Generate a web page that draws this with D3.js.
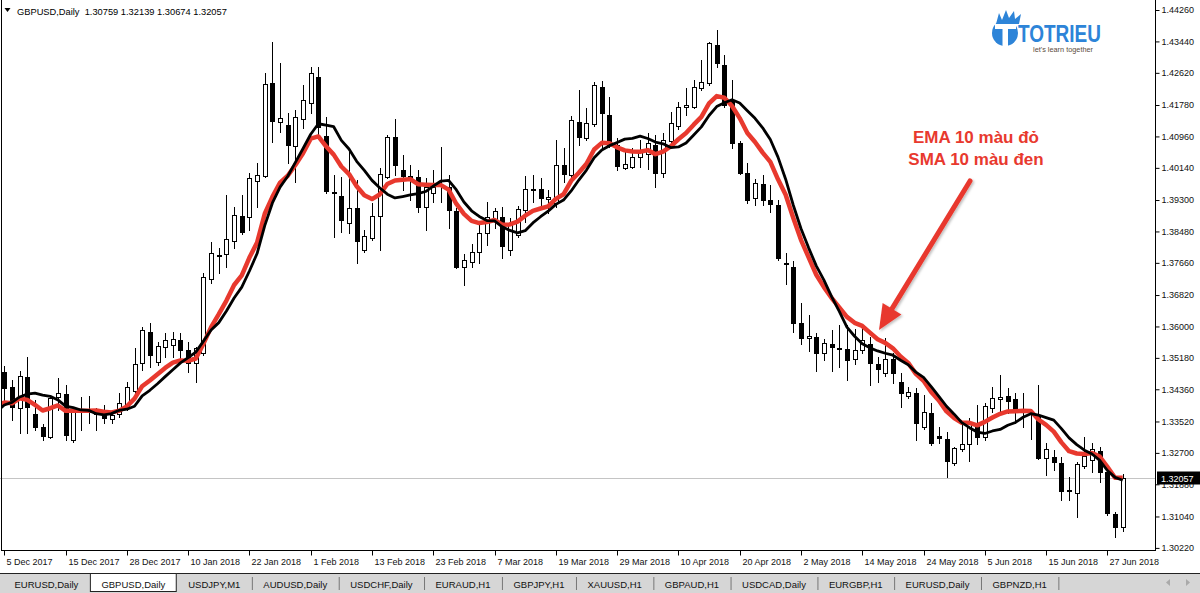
<!DOCTYPE html>
<html><head><meta charset="utf-8">
<script src="https://cdn.jsdelivr.net/npm/d3@7/dist/d3.min.js"></script>
<style>
html,body{margin:0;padding:0;background:#fff;overflow:hidden}
svg{display:block}
text{font-family:"Liberation Sans",Arial,sans-serif}
</style></head><body>
<svg id="chart" width="1200" height="593"></svg>
<script>
// ---------------- DATA ----------------
const symbolTitle = "GBPUSD,Daily";
const lastBarText = ["1.30759","1.32139","1.30674","1.32057"];
const currentPrice = 1.32057;
const maPeriod = 10;

const dateLabels = ["5 Dec 2017","15 Dec 2017","28 Dec 2017","10 Jan 2018","22 Jan 2018","1 Feb 2018","13 Feb 2018","23 Feb 2018","7 Mar 2018","19 Mar 2018","29 Mar 2018","10 Apr 2018","20 Apr 2018","2 May 2018","14 May 2018","24 May 2018","5 Jun 2018","15 Jun 2018","27 Jun 2018"];
const dateTickIdx = [0,8,16,24,32,40,48,56,64,72,80,88,96,104,112,120,128,136,144];
const priceTicks = [1.44260,1.43440,1.42620,1.41780,1.40960,1.40140,1.39300,1.38480,1.37660,1.36820,1.36000,1.35180,1.34360,1.33520,1.32700,1.31880,1.31040,1.30220];

// closes before 5 Dec 2017 (estimated from where the MA lines start)
const warmupCloses = [1.3262,1.3322,1.3330,1.3318,1.3309,1.3368,1.3443,1.3520,1.3478,1.3424];

const opens = [1.3481,1.3442,1.3387,1.3468,1.3372,1.3338,1.3312,1.3416,1.3424,1.3304,
1.3385,1.3382,1.3372,1.3382,1.3359,1.3372,1.3387,1.3432,1.3505,1.3586,
1.3507,1.3546,1.3552,1.3565,1.3539,1.3505,1.3531,1.3724,1.3787,1.3789,
1.3823,1.3888,1.3885,1.3980,1.3992,1.4236,1.4134,1.4126,1.4071,1.4142,
1.4183,1.4251,1.4097,1.3948,1.3941,1.3870,1.3909,1.3800,1.3831,1.3888,
1.3990,1.4095,1.4008,1.3990,1.3990,1.3912,1.3948,1.3967,1.3964,1.3901,
1.3755,1.3768,1.3794,1.3844,1.3878,1.3885,1.3800,1.3839,1.3904,1.3956,
1.3959,1.3933,1.3922,1.4022,1.3995,1.4134,1.4092,1.4129,1.4225,1.4152,
1.4074,1.4014,1.4016,1.4042,1.4050,1.4074,1.4001,1.4084,1.4123,1.4173,
1.4173,1.4223,1.4236,1.4335,1.4282,1.4191,1.4079,1.4001,1.3935,1.3972,
1.3930,1.3917,1.3766,1.3755,1.3609,1.3570,1.3573,1.3531,1.3554,1.3544,
1.3541,1.3515,1.3539,1.3554,1.3502,1.3479,1.3515,1.3455,1.3419,1.3426,
1.3338,1.3374,1.3314,1.3306,1.3244,1.3280,1.3293,1.3340,1.3312,1.3387,
1.3411,1.3419,1.3411,1.3377,1.3372,1.3369,1.3257,1.3259,1.3244,1.3173,
1.3165,1.3236,1.3252,1.3275,1.3220,1.3111,1.30759];
const highs = [1.3497,1.3460,1.3484,1.3520,1.3408,1.3346,1.3416,1.3466,1.3447,1.3390,
1.3416,1.3419,1.3387,1.3395,1.3374,1.3426,1.3455,1.3544,1.3599,1.3609,
1.3560,1.3583,1.3586,1.3583,1.3560,1.3546,1.3740,1.3821,1.3805,1.3943,
1.3912,1.3943,1.4001,1.4027,1.4262,1.4343,1.4288,1.4157,1.4165,1.4230,
1.4277,1.4277,1.4147,1.3995,1.3990,1.4055,1.3982,1.3852,1.3922,1.4014,
1.4100,1.4142,1.4048,1.4022,1.4008,1.3988,1.4008,1.4068,1.3995,1.3909,
1.3789,1.3815,1.3870,1.3925,1.3909,1.3912,1.3883,1.3915,1.3992,1.3995,
1.3988,1.3956,1.4087,1.4066,1.4149,1.4217,1.4170,1.4238,1.4241,1.4199,
1.4092,1.4055,1.4066,1.4087,1.4105,1.4100,1.4105,1.4160,1.4186,1.4223,
1.4243,1.4296,1.4343,1.4374,1.4309,1.4243,1.4084,1.4027,1.3985,1.3995,
1.3969,1.3930,1.3792,1.3771,1.3661,1.3630,1.3583,1.3567,1.3591,1.3604,
1.3604,1.3593,1.3604,1.3573,1.3520,1.3570,1.3531,1.3479,1.3442,1.3439,
1.3421,1.3400,1.3338,1.3325,1.3285,1.3343,1.3361,1.3395,1.3400,1.3442,
1.3473,1.3439,1.3426,1.3426,1.3382,1.3447,1.3296,1.3278,1.3259,1.3207,
1.3246,1.3312,1.3296,1.3285,1.3231,1.3116,1.32139];
const lows = [1.3395,1.3356,1.3322,1.3322,1.3330,1.3304,1.3309,1.3382,1.3304,1.3299,
1.3330,1.3348,1.3330,1.3348,1.3348,1.3364,1.3382,1.3426,1.3486,1.3494,
1.3499,1.3520,1.3520,1.3505,1.3481,1.3455,1.3526,1.3714,1.3740,1.3755,
1.3805,1.3841,1.3852,1.3912,1.3990,1.4082,1.4108,1.4027,1.3977,1.4118,
1.4157,1.4095,1.3948,1.3833,1.3847,1.3844,1.3766,1.3794,1.3826,1.3800,
1.3988,1.3995,1.3956,1.3930,1.3899,1.3852,1.3925,1.3925,1.3857,1.3753,
1.3708,1.3755,1.3766,1.3813,1.3857,1.3779,1.3787,1.3833,1.3873,1.3925,
1.3917,1.3896,1.3912,1.3977,1.3990,1.4074,1.4087,1.4123,1.4061,1.4068,
1.4008,1.4011,1.4014,1.4016,1.4011,1.3964,1.3990,1.4068,1.4115,1.4152,
1.4170,1.4217,1.4230,1.4277,1.4173,1.4066,1.3998,1.3922,1.3917,1.3917,
1.3899,1.3774,1.3711,1.3586,1.3554,1.3536,1.3484,1.3513,1.3484,1.3494,
1.3460,1.3502,1.3531,1.3447,1.3455,1.3471,1.3453,1.3390,1.3413,1.3304,
1.3332,1.3291,1.3296,1.3207,1.3239,1.3275,1.3249,1.3293,1.3304,1.3377,
1.3374,1.3374,1.3348,1.3338,1.3306,1.3254,1.3212,1.3225,1.3147,1.3147,
1.3103,1.3231,1.3220,1.3194,1.3108,1.3050,1.30674];
const closes = [1.3439,1.3390,1.3471,1.3390,1.3338,1.3314,1.3413,1.3426,1.3317,1.3382,
1.3379,1.3379,1.3385,1.3361,1.3369,1.3400,1.3442,1.3502,1.3591,1.3526,
1.3549,1.3565,1.3567,1.3539,1.3505,1.3544,1.3729,1.3792,1.3784,1.3828,
1.3891,1.3847,1.3988,1.3995,1.4233,1.4136,1.4144,1.4074,1.4147,1.4191,
1.4262,1.4121,1.3954,1.3951,1.3878,1.3909,1.3823,1.3836,1.3888,1.3998,
1.4095,1.4022,1.3992,1.3992,1.3912,1.3964,1.3964,1.3969,1.3904,1.3755,
1.3774,1.3794,1.3844,1.3885,1.3901,1.3810,1.3870,1.3907,1.3959,1.3959,
1.3935,1.3938,1.4022,1.3998,1.4139,1.4095,1.4131,1.4230,1.4157,1.4074,
1.4019,1.4024,1.4042,1.4055,1.4079,1.4001,1.4087,1.4131,1.4173,1.4178,
1.4225,1.4238,1.4340,1.4288,1.4178,1.4079,1.4001,1.3930,1.3975,1.3930,
1.3920,1.3779,1.3763,1.3609,1.3570,1.3575,1.3531,1.3557,1.3546,1.3541,
1.3513,1.3539,1.3565,1.3505,1.3489,1.3515,1.3479,1.3426,1.3429,1.3348,
1.3377,1.3296,1.3309,1.3249,1.3283,1.3293,1.3348,1.3312,1.3392,1.3413,
1.3416,1.3406,1.3382,1.3385,1.3377,1.3257,1.3280,1.3246,1.3171,1.3171,
1.3241,1.3262,1.3280,1.3220,1.3113,1.3077,1.32057];

const tabNames = ["EURUSD,Daily","GBPUSD,Daily","USDJPY,M1","AUDUSD,Daily","USDCHF,Daily","EURAUD,H1","GBPJPY,H1","XAUUSD,H1","GBPAUD,H1","USDCAD,Daily","EURGBP,H1","EURUSD,Daily","GBPNZD,H1"];
const activeTab = 1;
const annotationLines = ["EMA 10 màu đỏ","SMA 10 màu đen"];
const logoWord = "TOTRIEU";
const logoTagline = "let's learn together";

// ---------------- DRAW ----------------
const W = 1200, H = 593;
const plotRight = 1155, plotBottom = 550;
const red = "#e8392e";
const svg = d3.select("#chart");

const x = d3.scaleLinear().domain([0, opens.length - 1]).range([4.3, 1122.7]);
const y = d3.scaleLinear().domain([1.30220, 1.44260]).range([547.9, 10]);

const defs = svg.append("defs");
defs.append("clipPath").attr("id","plotclip").append("rect")
  .attr("x",1).attr("y",0).attr("width",plotRight-1).attr("height",plotBottom);
const f = defs.append("filter").attr("id","shadow").attr("x","-20%").attr("y","-20%").attr("width","140%").attr("height","140%");
f.append("feDropShadow").attr("dx",1.5).attr("dy",1.5).attr("stdDeviation",1.2).attr("flood-color","#000").attr("flood-opacity",0.25);

// current price line
const py = Math.round(y(currentPrice)) + 0.5;
svg.append("line").attr("x1",0).attr("x2",plotRight).attr("y1",py).attr("y2",py)
  .attr("stroke","#c4c4c4").attr("stroke-width",1);

// candles
const bars = opens.map((o,i)=>({i, o, h: highs[i], l: lows[i], c: closes[i]}));
const cg = svg.append("g").attr("clip-path","url(#plotclip)");
cg.selectAll("line.wick").data(bars).join("line").attr("class","wick")
  .attr("x1",d=>Math.round(x(d.i))+0.5).attr("x2",d=>Math.round(x(d.i))+0.5)
  .attr("y1",d=>Math.round(y(d.h))).attr("y2",d=>Math.round(y(d.l))+1)
  .attr("stroke","#000").attr("stroke-width",1);
cg.selectAll("rect.body").data(bars).join("rect").attr("class","body")
  .attr("x",d=>Math.round(x(d.i))-2+0.5).attr("width",4)
  .attr("y",d=>Math.round(y(Math.max(d.o,d.c)))+0.5)
  .attr("height",d=>Math.max(1, Math.round(y(Math.min(d.o,d.c))) - Math.round(y(Math.max(d.o,d.c)))))
  .attr("fill",d=>d.c < d.o ? "#000" : "#fff")
  .attr("stroke","#000").attr("stroke-width",1);

// moving averages (computed from the closes)
const allCloses = warmupCloses.concat(closes);
const off = warmupCloses.length;
const k = 2/(maPeriod+1);
let e = allCloses[0];
const emaAll = allCloses.map((c,j)=> j===0 ? e : (e = e + k*(c - e)));
const smaPts = [], emaPts = [];
for (let j = maPeriod-1; j < allCloses.length; j++) {
  smaPts.push({i: j-off, v: d3.mean(allCloses.slice(j-maPeriod+1, j+1))});
}
for (let j = off-1; j < allCloses.length; j++) emaPts.push({i: j-off, v: emaAll[j]});
const lineGen = d3.line().x(d=>x(d.i)).y(d=>y(d.v));
cg.append("path").datum(emaPts).attr("d",lineGen).attr("fill","none")
  .attr("stroke",red).attr("stroke-width",4.5).attr("stroke-linejoin","round");
cg.append("path").datum(smaPts).attr("d",lineGen).attr("fill","none")
  .attr("stroke","#000").attr("stroke-width",2.8).attr("stroke-linejoin","round");

// frame
svg.append("line").attr("x1",1.5).attr("x2",1.5).attr("y1",0).attr("y2",plotBottom+0.5).attr("stroke","#000");
svg.append("line").attr("x1",plotRight+0.5).attr("x2",plotRight+0.5).attr("y1",0).attr("y2",plotBottom+1).attr("stroke","#000");
svg.append("line").attr("x1",1).attr("x2",plotRight+1).attr("y1",plotBottom+0.5).attr("y2",plotBottom+0.5).attr("stroke","#000");

// right price axis
const ya = svg.append("g").attr("transform",`translate(${plotRight+0.5},0)`)
  .call(d3.axisRight(y).tickValues(priceTicks).tickSize(4).tickPadding(2).tickFormat(d3.format(".5f")));
ya.select(".domain").remove();
ya.selectAll("line").attr("stroke","#000");
ya.selectAll("text").attr("font-size","9px").attr("fill","#111").attr("font-family","Liberation Sans, Arial, sans-serif");

// current price label (covers the tick label beneath it, as in the terminal)
svg.append("rect").attr("x",plotRight+2).attr("y",py-7).attr("width",43).attr("height",13).attr("fill","#000");
svg.append("text").attr("x",plotRight+6).attr("y",py+3.5).attr("font-size","9px").attr("fill","#fff")
  .text(d3.format(".5f")(currentPrice));

// bottom date axis
const xa = svg.append("g").attr("transform",`translate(0,${plotBottom+0.5})`)
  .call(d3.axisBottom(x).tickValues(dateTickIdx).tickSize(5).tickFormat((d,i)=>dateLabels[i]));
xa.select(".domain").remove();
xa.selectAll(".tick").attr("transform",d=>`translate(${Math.round(x(d))+0.5},0)`);
xa.selectAll("line").attr("stroke","#000");
xa.selectAll("text").attr("text-anchor","start").attr("x",2).attr("y",14.5).attr("dy",null)
  .attr("font-size","9px").attr("fill","#111").attr("font-family","Liberation Sans, Arial, sans-serif");

// header
svg.append("path").attr("d","M4.5,8 L10.5,8 L7.5,12 Z").attr("fill","#000");
svg.append("text").attr("x",17).attr("y",15).attr("font-size","9.3px").attr("fill","#000")
  .attr("xml:space","preserve")
  .text(symbolTitle + "  " + lastBarText.join(" "));

// tab strip
const tabY = 573;
svg.append("rect").attr("x",0).attr("y",tabY).attr("width",W).attr("height",H-tabY).attr("fill","#d6d6d6");
svg.append("line").attr("x1",0).attr("x2",W).attr("y1",tabY+0.5).attr("y2",tabY+0.5).attr("stroke","#222");
const tg = svg.append("g");
let tx = 3;
tabNames.forEach((name,i)=>{
  const t = tg.append("text").attr("y",587.5).attr("font-size","9.5px").attr("fill","#111").text(name);
  const w = t.node().getComputedTextLength();
  const tabW = w + 23;
  if (i === activeTab) {
    tg.insert("rect","text").attr("x",tx+0.5).attr("y",tabY+0.5).attr("width",tabW-1).attr("height",18)
      .attr("fill","#fff").attr("stroke","#222");
  } else if (i !== activeTab-1) {
    tg.append("line").attr("x1",tx+tabW+0.5).attr("x2",tx+tabW+0.5).attr("y1",577).attr("y2",590).attr("stroke","#777");
  }
  t.attr("x",tx + (tabW - w)/2);
  tx += tabW;
});
svg.append("path").attr("d","M1170,579 L1166,582.5 L1170,586 Z").attr("fill","#aaa");
svg.append("path").attr("d","M1186,579 L1190,582.5 L1186,586 Z").attr("fill","#aaa");

// annotation
annotationLines.forEach((s,i)=>{
  svg.append("text").attr("x",976).attr("y",143 + i*22).attr("text-anchor","middle")
    .attr("font-size","17px").attr("font-weight","bold").attr("fill",red).text(s);
});
const tip = [879,330], start = [970,181];
const dx = tip[0]-start[0], dy = tip[1]-start[1], len = Math.hypot(dx,dy);
const ux = dx/len, uy = dy/len, hl = 25, hw = 11;
const bc = [tip[0]-ux*hl, tip[1]-uy*hl];
const ag = svg.append("g").attr("filter","url(#shadow)");
ag.append("line").attr("x1",start[0]).attr("y1",start[1]).attr("x2",bc[0]+ux*2).attr("y2",bc[1]+uy*2)
  .attr("stroke",red).attr("stroke-width",5).attr("stroke-linecap","round");
ag.append("path").attr("d",`M${tip[0]},${tip[1]} L${bc[0]-uy*hw},${bc[1]+ux*hw} L${bc[0]+uy*hw},${bc[1]-ux*hw} Z`).attr("fill",red);

// logo
const blue = "#2d84d8";
const lg = svg.append("g");
lg.append("path").attr("d","M996,24 L999,13 L1002,20 L1006,10 L1009,18 L1014,11 L1015,19 L1021,14 L1019,24 Z").attr("fill",blue);
lg.append("circle").attr("cx",1005).attr("cy",33).attr("r",13).attr("fill",blue);
lg.append("rect").attr("x",995).attr("y",24).attr("width",21).attr("height",5).attr("fill","#fff");
lg.append("rect").attr("x",1002.5).attr("y",29).attr("width",5.5).attr("height",17).attr("fill","#fff");
lg.append("text").attr("x",1018).attr("y",41.5).attr("font-size","24px").attr("font-weight","bold")
  .attr("fill",blue).attr("textLength",83).attr("lengthAdjust","spacingAndGlyphs").text(logoWord);
lg.append("text").attr("x",1033).attr("y",51.5).attr("font-size","8px").attr("fill","#5b4b3c")
  .attr("textLength",60).attr("lengthAdjust","spacingAndGlyphs").text(logoTagline);
</script>
</body></html>
